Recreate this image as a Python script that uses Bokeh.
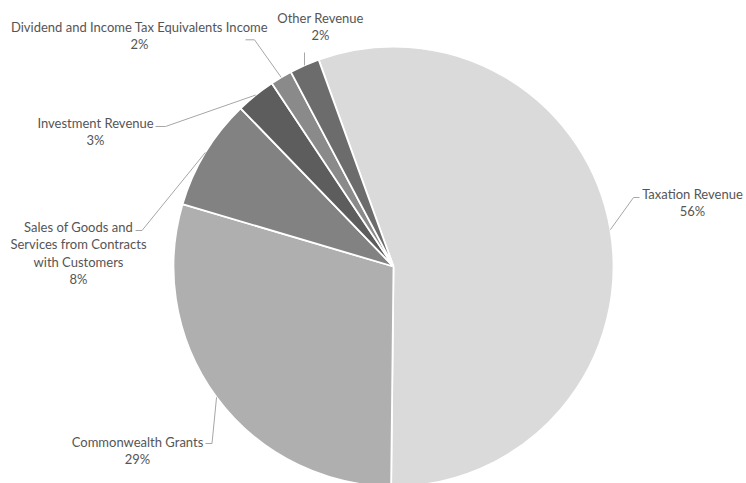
import math
from bokeh.plotting import figure
from bokeh.models import Range1d, ColumnDataSource
from bokeh.core.properties import value
from bokeh.embed import file_html
from bokeh.resources import INLINE

# ---- data ----
categories = ["Taxation Revenue", "Commonwealth Grants",
              "Sales of Goods and Services from Contracts with Customers",
              "Investment Revenue", "Dividend and Income Tax Equivalents Income",
              "Other Revenue"]
values = [55.7, 29.4, 8.2, 2.9, 1.6, 2.2]
colors = ["#dadada", "#afafaf", "#828282", "#5d5d5d", "#8a8a8a", "#6c6c6c"]

# label text lines (layout of the category names)
label_lines = [["Taxation Revenue"], ["Commonwealth Grants"],
               ["Sales of Goods and", "Services from Contracts", "with Customers"],
               ["Investment Revenue"], ["Dividend and Income Tax Equivalents Income"],
               ["Other Revenue"]]

# ---- layout (screen px; data y = H - screen y) ----
W, H = 746, 483
CX, CY, R = 393, 266, 220
ROT = 19.9  # degrees: first slice starts this far anticlockwise of 12 o'clock
label_pos = [(692, 193), (137, 441), (78, 226), (95, 122), (139, 26), (320, 17)]
line_gap = 17.5
elbows = [[(639, 197), (633, 197)],
          [(205, 443), (211.5, 443)],
          [(135, 230), (141.5, 230)],
          [(155, 126), (165, 126)],
          [(245, 39.3), (254, 39.3)],
          [(304, 52)]]

def Y(sy):
    return H - sy

total = sum(values)
starts, ends, mids = [], [], []
acc = 0.0
for v in values:
    s = 90 + ROT - acc / total * 360
    e = s - v / total * 360
    starts.append(math.radians(s))
    ends.append(math.radians(e))
    mids.append(math.radians((s + e) / 2))
    acc += v

p = figure(width=W, height=H, output_backend="svg", toolbar_location=None,
           x_range=Range1d(0, W), y_range=Range1d(0, H), min_border=0,
           background_fill_color="white", border_fill_color="white")
p.outline_line_color = None
p.axis.visible = False
p.grid.visible = False

src = ColumnDataSource(dict(cat=categories, val=values, start=starts, end=ends, color=colors))
p.wedge(x=CX, y=Y(CY), radius=R, start_angle="start", end_angle="end",
        direction="clock", fill_color="color", line_color="white", line_width=1.8,
        source=src)

# leader lines
xs, ys = [], []
for i, m in enumerate(mids):
    px = CX + R * math.cos(m)
    py = Y(CY) + R * math.sin(m)
    lx = [e[0] for e in elbows[i]] + [px]
    ly = [Y(e[1]) for e in elbows[i]] + [py]
    xs.append(lx)
    ys.append(ly)
p.multi_line(xs=xs, ys=ys, line_color="#a6a6a6", line_width=1)

# labels
tx, ty, tt = [], [], []
for i, v in enumerate(values):
    lines = label_lines[i] + [f"{round(v / total * 100)}%"]
    x0, y0 = label_pos[i]
    for k, t in enumerate(lines):
        tx.append(x0)
        ty.append(Y(y0 + k * line_gap))
        tt.append(t)
p.text(x=tx, y=ty, text=tt, text_align="center", text_baseline="middle",
       text_font=value("Lato"), text_font_size="13px", text_color="#555555")

open("out.html", "w").write(file_html(p, INLINE))
